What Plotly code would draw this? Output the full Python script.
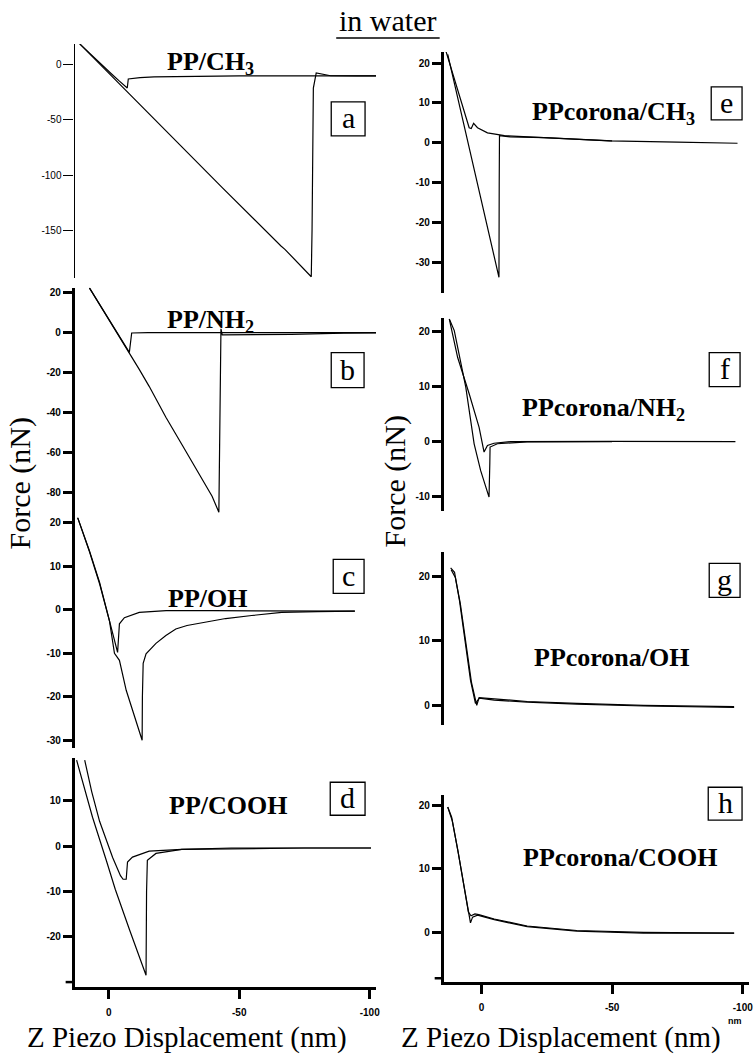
import plotly.graph_objects as go

# ---------------- data (x: Z piezo displacement in nm, y: force in nN) ----------------
# Panel a : PP/CH3
a_app_x = [11.1, 8.0, 5.0, 2.0, -1.0, -4.0, -7.1, -7.5, -12.0, -17.4, -30.0, -50.0, -70.0, -90.0, -102.4]
a_app_y = [19.1, 12.0, 6.0, -1.5, -8.0, -14.5, -20.9, -12.7, -11.5, -10.9, -10.3, -10.0, -10.0, -9.9, -9.9]
a_ret_x = [11.1, 6.0, 1.0, -4.0, -7.1, -11.7, -16.7, -22.0, -29.6, -36.0, -43.3, -50.0, -57.4, -62.4, -66.0,
           -67.5, -70.0, -77.6, -77.9, -78.4, -79.5, -85.0, -95.0, -102.4]
a_ret_y = [19.1, 7.0, -4.8, -16.7, -24.3, -35.5, -47.0, -59.5, -78.0, -93.5, -111.0, -127.0, -144.5, -156.0, -164.5,
           -167.5, -173.5, -192.4, -150.0, -21.0, -7.3, -9.8, -9.9, -9.9]

# Panel b : PP/NH2
b_app_x = [7.4, 3.5, 0.0, -4.0, -7.9, -8.8, -15.0, -30.0, -50.0, -70.0, -102.4]
b_app_y = [22.3, 14.0, 6.5, -1.8, -10.0, -0.3, -0.1, -0.1, -0.1, -0.1, -0.1]
b_ret_x = [7.4, 3.5, 0.0, -4.0, -7.9, -11.7, -15.5, -18.1, -21.9, -28.2, -34.6, -39.6, -42.2, -42.5, -43.0, -43.5,
           -55.0, -70.0, -90.0, -102.4]
b_ret_y = [22.3, 14.0, 6.5, -1.8, -10.0, -18.5, -27.0, -33.5, -42.5, -56.5, -70.5, -82.0, -90.0, -40.0, 1.8, -1.2,
           -1.1, -1.0, -0.4, -0.2]

# Panel c : PP/OH
c_app_x = [11.9, 7.4, 3.5, -0.3, -3.4, -4.1, -6.0, -11.7, -22.0, -40.0, -60.0, -80.0, -94.3]
c_app_y = [21.2, 13.6, 6.3, -2.4, -9.8, -3.2, -1.8, -0.6, -0.2, -0.2, -0.2, -0.3, -0.3]
c_ret_x = [11.9, 7.4, 3.5, -0.3, -2.2, -4.1, -6.7, -9.1, -12.8, -12.9, -13.2, -14.3, -18.1, -21.9, -25.7, -30.0,
           -34.6, -44.8, -54.8, -66.3, -80.0, -94.3]
c_ret_y = [21.2, 13.4, 6.0, -2.6, -10.0, -11.6, -18.5, -23.1, -30.0, -20.0, -12.3, -10.1, -7.7, -5.9, -4.4, -3.6,
           -3.1, -2.0, -1.3, -0.6, -0.4, -0.3]

# Panel d : PP/COOH
d_app_x = [9.2, 6.5, 3.5, -1.5, -4.5, -5.5, -6.7, -7.2, -9.1, -15.5, -28.0, -50.0, -75.0, -100.5]
d_app_y = [19.0, 12.0, 5.5, -2.5, -6.5, -7.3, -7.3, -3.5, -2.4, -1.1, -0.7, -0.5, -0.4, -0.4]
d_ret_x = [12.3, 9.0, 6.2, 1.0, -2.5, -8.0, -14.3, -14.5, -14.8, -18.1, -28.0, -47.0, -75.0, -100.5]
d_ret_y = [19.0, 12.5, 6.4, -3.0, -9.5, -18.5, -28.5, -10.0, -3.1, -1.6, -0.7, -0.4, -0.4, -0.4]

# Panel e : PPcorona/CH3
e_app_x = [13.6, 9.8, 6.7, 4.7, 3.9, 3.0, 1.5, -2.3, -8.8, -24.0, -49.0, -75.0, -98.0]
e_app_y = [23.0, 14.7, 8.0, 3.8, 3.6, 4.9, 3.8, 2.5, 1.8, 1.3, 0.5, 0.2, -0.1]
e_ret_x = [12.9, 7.9, 2.8, -2.3, -6.7, -6.8, -6.9, -11.0, -24.0, -50.0]
e_ret_y = [22.2, 7.8, -6.7, -21.1, -33.7, -10.0, 1.8, 1.5, 1.3, 0.5]

# Panel f : PPcorona/NH2
f_app_x = [12.3, 9.1, 4.7, 0.9, -1.0, -2.3, -4.8, -11.2, -49.2, -97.2]
f_app_y = [22.3, 15.3, 8.7, 2.6, -1.9, -0.7, -0.3, 0.0, 0.05, 0.0]
f_ret_x = [12.3, 10.4, 6.0, 2.8, 0.3, -2.9, -3.2, -3.3, -6.1, -17.5, -50.0]
f_ret_y = [22.3, 20.2, 9.9, -0.4, -5.3, -10.1, -4.0, -1.0, -0.4, -0.05, 0.0]

# Panel g : PPcorona/OH
g_app_x = [11.8, 10.3, 8.4, 6.1, 4.2, 2.3, 0.8, -4.9, -17.5, -36.5, -62.0, -96.7]
g_app_y = [21.3, 20.6, 16.2, 9.6, 3.9, 0.3, 1.1, 0.8, 0.5, 0.2, -0.1, -0.3]
g_ret_x = [11.6, 10.0, 8.1, 5.8, 3.8, 1.8, 0.9, -4.9, -17.5, -36.5, -62.0, -96.7]
g_ret_y = [21.0, 19.8, 15.8, 9.2, 3.5, 0.0, 1.2, 1.0, 0.6, 0.3, 0.0, -0.2]

# Panel h : PPcorona/COOH
h_app_x = [12.9, 11.4, 9.1, 6.5, 5.3, 4.2, 3.4, 1.5, -4.9, -17.5, -36.5, -62.0, -96.7]
h_app_y = [19.7, 18.1, 13.0, 6.7, 3.5, 1.5, 2.4, 2.7, 2.0, 0.9, 0.2, -0.1, -0.1]
h_ret_x = [12.9, 11.2, 8.9, 6.3, 5.0, 4.0, 2.5, 1.0, -4.9, -17.5, -36.5, -62.0, -96.7]
h_ret_y = [19.7, 17.6, 12.6, 6.3, 3.2, 2.6, 2.9, 2.8, 2.1, 1.0, 0.3, 0.0, -0.1]

panel_titles = ["PP/CH<sub>3</sub>", "PP/NH<sub>2</sub>", "PP/OH", "PP/COOH",
                "PPcorona/CH<sub>3</sub>", "PPcorona/NH<sub>2</sub>", "PPcorona/OH", "PPcorona/COOH"]
panel_letters = ["a", "b", "c", "d", "e", "f", "g", "h"]

a_ticks = [-150, -100, -50, 0]
b_ticks = [-80, -60, -40, -20, 0, 20]
c_ticks = [-30, -20, -10, 0, 10, 20]
d_ticks = [-20, -10, 0, 10]
e_ticks = [-30, -20, -10, 0, 10, 20]
f_ticks = [-10, 0, 10, 20]
g_ticks = [0, 10, 20]
h_ticks = [0, 10, 20]
d_unlabeled_tick = -30
h_unlabeled_tick = -7.2
x_ticks = [0, -50, -100]
x_ticklabels = ["0", "-50", "-100"]

# ---------------- layout helpers ----------------
W, H = 756, 1055


def PX(x):
    return x / W


def PY(y):
    return 1 - y / H


curves = [
    (a_app_x, a_app_y, a_ret_x, a_ret_y),
    (b_app_x, b_app_y, b_ret_x, b_ret_y),
    (c_app_x, c_app_y, c_ret_x, c_ret_y),
    (d_app_x, d_app_y, d_ret_x, d_ret_y),
    (e_app_x, e_app_y, e_ret_x, e_ret_y),
    (f_app_x, f_app_y, f_ret_x, f_ret_y),
    (g_app_x, g_app_y, g_ret_x, g_ret_y),
    (h_app_x, h_app_y, h_ret_x, h_ret_y),
]
ticks = [a_ticks, b_ticks, c_ticks, d_ticks, e_ticks, f_ticks, g_ticks, h_ticks]
extra_ticks = {4: d_unlabeled_tick, 8: h_unlabeled_tick}

# pixel layout: (column, top px, bottom px, y-range)
geom = [
    (0, 43, 277, [-193.3, 19.06]),
    (0, 287, 520, [-94.15, 22.35]),
    (0, 517, 748, [-31.84, 21.23]),
    (0, 758, 987, [-31.1, 19.41]),
    (1, 51, 292, [-37.57, 22.79]),
    (1, 317, 510, [-12.55, 22.55]),
    (1, 552, 725, [-3.09, 23.67]),
    (1, 795, 982, [-7.81, 21.56]),
]
col_dom = [(75, 378), (446, 753)]
col_rng = [[13.07, -102.4], [14.47, -102.4]]

# label positions (px centres)
title_pos = [(212, 62), (212, 320), (209, 598), (229, 805), (617, 112), (607, 408), (615, 657), (624, 857)]
box_pos = [(333, 101, 367, 135), (333, 352, 366, 387), (335, 559, 366, 593), (332, 782, 367, 815),
           (715, 86, 746, 119), (713, 352, 744, 386), (713, 563, 744, 597), (712, 787, 746, 820)]

fig = go.Figure()
layout = dict(
    width=W, height=H, margin=dict(l=0, r=0, t=0, b=0),
    paper_bgcolor="white", plot_bgcolor="rgba(0,0,0,0)", showlegend=False,
)

serif = "Liberation Serif"
sans = "Liberation Sans"
annotations = []
shapes = []

for i in range(8):
    n = i + 1
    xa = "x" if n == 1 else f"x{n}"
    ya = "y" if n == 1 else f"y{n}"
    ax_x = "xaxis" if n == 1 else f"xaxis{n}"
    ax_y = "yaxis" if n == 1 else f"yaxis{n}"
    col, top, bot, yr = geom[i]
    ax0, ax1 = col_dom[col]
    cx = curves[i]
    for k in range(2):
        fig.add_trace(go.Scatter(x=cx[2 * k], y=cx[2 * k + 1], mode="lines",
                                 line=dict(color="black", width=1.2),
                                 xaxis=xa, yaxis=ya, hoverinfo="skip"))
    show_x = n in (4, 8)
    layout[ax_x] = dict(
        domain=[PX(ax0), PX(ax1)], range=col_rng[col], anchor=ya,
        visible=show_x, showgrid=False, zeroline=False,
        showline=show_x, linecolor="black", linewidth=2.5,
        ticks="outside", ticklen=9, tickwidth=2.5, tickcolor="black",
        tickvals=x_ticks, ticktext=x_ticklabels, ticklabelstandoff=5,
        tickfont=dict(family=sans, size=10, color="black", weight="bold"),
    )
    tv = ticks[i]
    thin = (n == 1)
    layout[ax_y] = dict(
        domain=[PY(bot), PY(top)], range=yr, anchor=xa,
        showgrid=False, zeroline=False, showline=True, linecolor="black",
        linewidth=1.3 if thin else 2.5,
        ticks="outside", ticklen=10 if thin else 9, tickwidth=1 if thin else 2.5, tickcolor="black",
        tickvals=tv, ticktext=[str(v) for v in tv],
        tickfont=dict(family=sans, size=10, color="black", weight="normal" if thin else "bold"),
    )
    if n in extra_ticks:
        # an unlabeled tick mark at the bottom of the axis
        shapes.append(dict(type="line", xref=f"{xa} domain", yref=ya,
                           x0=-9 / (ax1 - ax0), x1=0, y0=extra_ticks[n], y1=extra_ticks[n],
                           line=dict(color="black", width=2.5)))
    tx, ty = title_pos[i]
    annotations.append(dict(x=PX(tx), y=PY(ty), xref="paper", yref="paper", showarrow=False,
                            xanchor="center", yanchor="middle", text=panel_titles[i],
                            font=dict(family=serif, size=26, color="black", weight="bold")))
    bx0, by0, bx1, by1 = box_pos[i]
    shapes.append(dict(type="rect", xref="paper", yref="paper", x0=PX(bx0), x1=PX(bx1),
                       y0=PY(by1), y1=PY(by0), line=dict(color="black", width=1.3)))
    annotations.append(dict(x=PX((bx0 + bx1) / 2), y=PY((by0 + by1) / 2 - 1), xref="paper", yref="paper",
                            showarrow=False, xanchor="center", yanchor="middle", text=panel_letters[i],
                            font=dict(family=serif, size=30, color="black")))

# global labels
annotations.append(dict(x=PX(390), y=PY(20), xref="paper", yref="paper", showarrow=False,
                        xanchor="center", yanchor="middle", text="in water",
                        font=dict(family=serif, size=30, color="black")))
shapes.append(dict(type="line", xref="paper", yref="paper", x0=PX(338), x1=PX(442), y0=PY(37), y1=PY(37),
                   line=dict(color="black", width=1.5)))
for fx_, fy_ in [(20, 483), (397, 481)]:
    annotations.append(dict(x=PX(fx_), y=PY(fy_), xref="paper", yref="paper", showarrow=False,
                            xanchor="center", yanchor="middle", text="Force (nN)", textangle=-90,
                            font=dict(family=serif, size=30, color="black")))
for zx in [188, 564]:
    annotations.append(dict(x=PX(zx), y=PY(1037), xref="paper", yref="paper", showarrow=False,
                            xanchor="center", yanchor="middle", text="Z Piezo Displacement (nm)",
                            font=dict(family=serif, size=29, color="black")))
annotations.append(dict(x=PX(739), y=PY(1021), xref="paper", yref="paper", showarrow=False,
                        xanchor="center", yanchor="middle", text="nm",
                        font=dict(family=sans, size=9, color="black", weight="bold")))

layout["annotations"] = annotations
layout["shapes"] = shapes
fig.update_layout(**layout)
fig.write_html("out.html")
